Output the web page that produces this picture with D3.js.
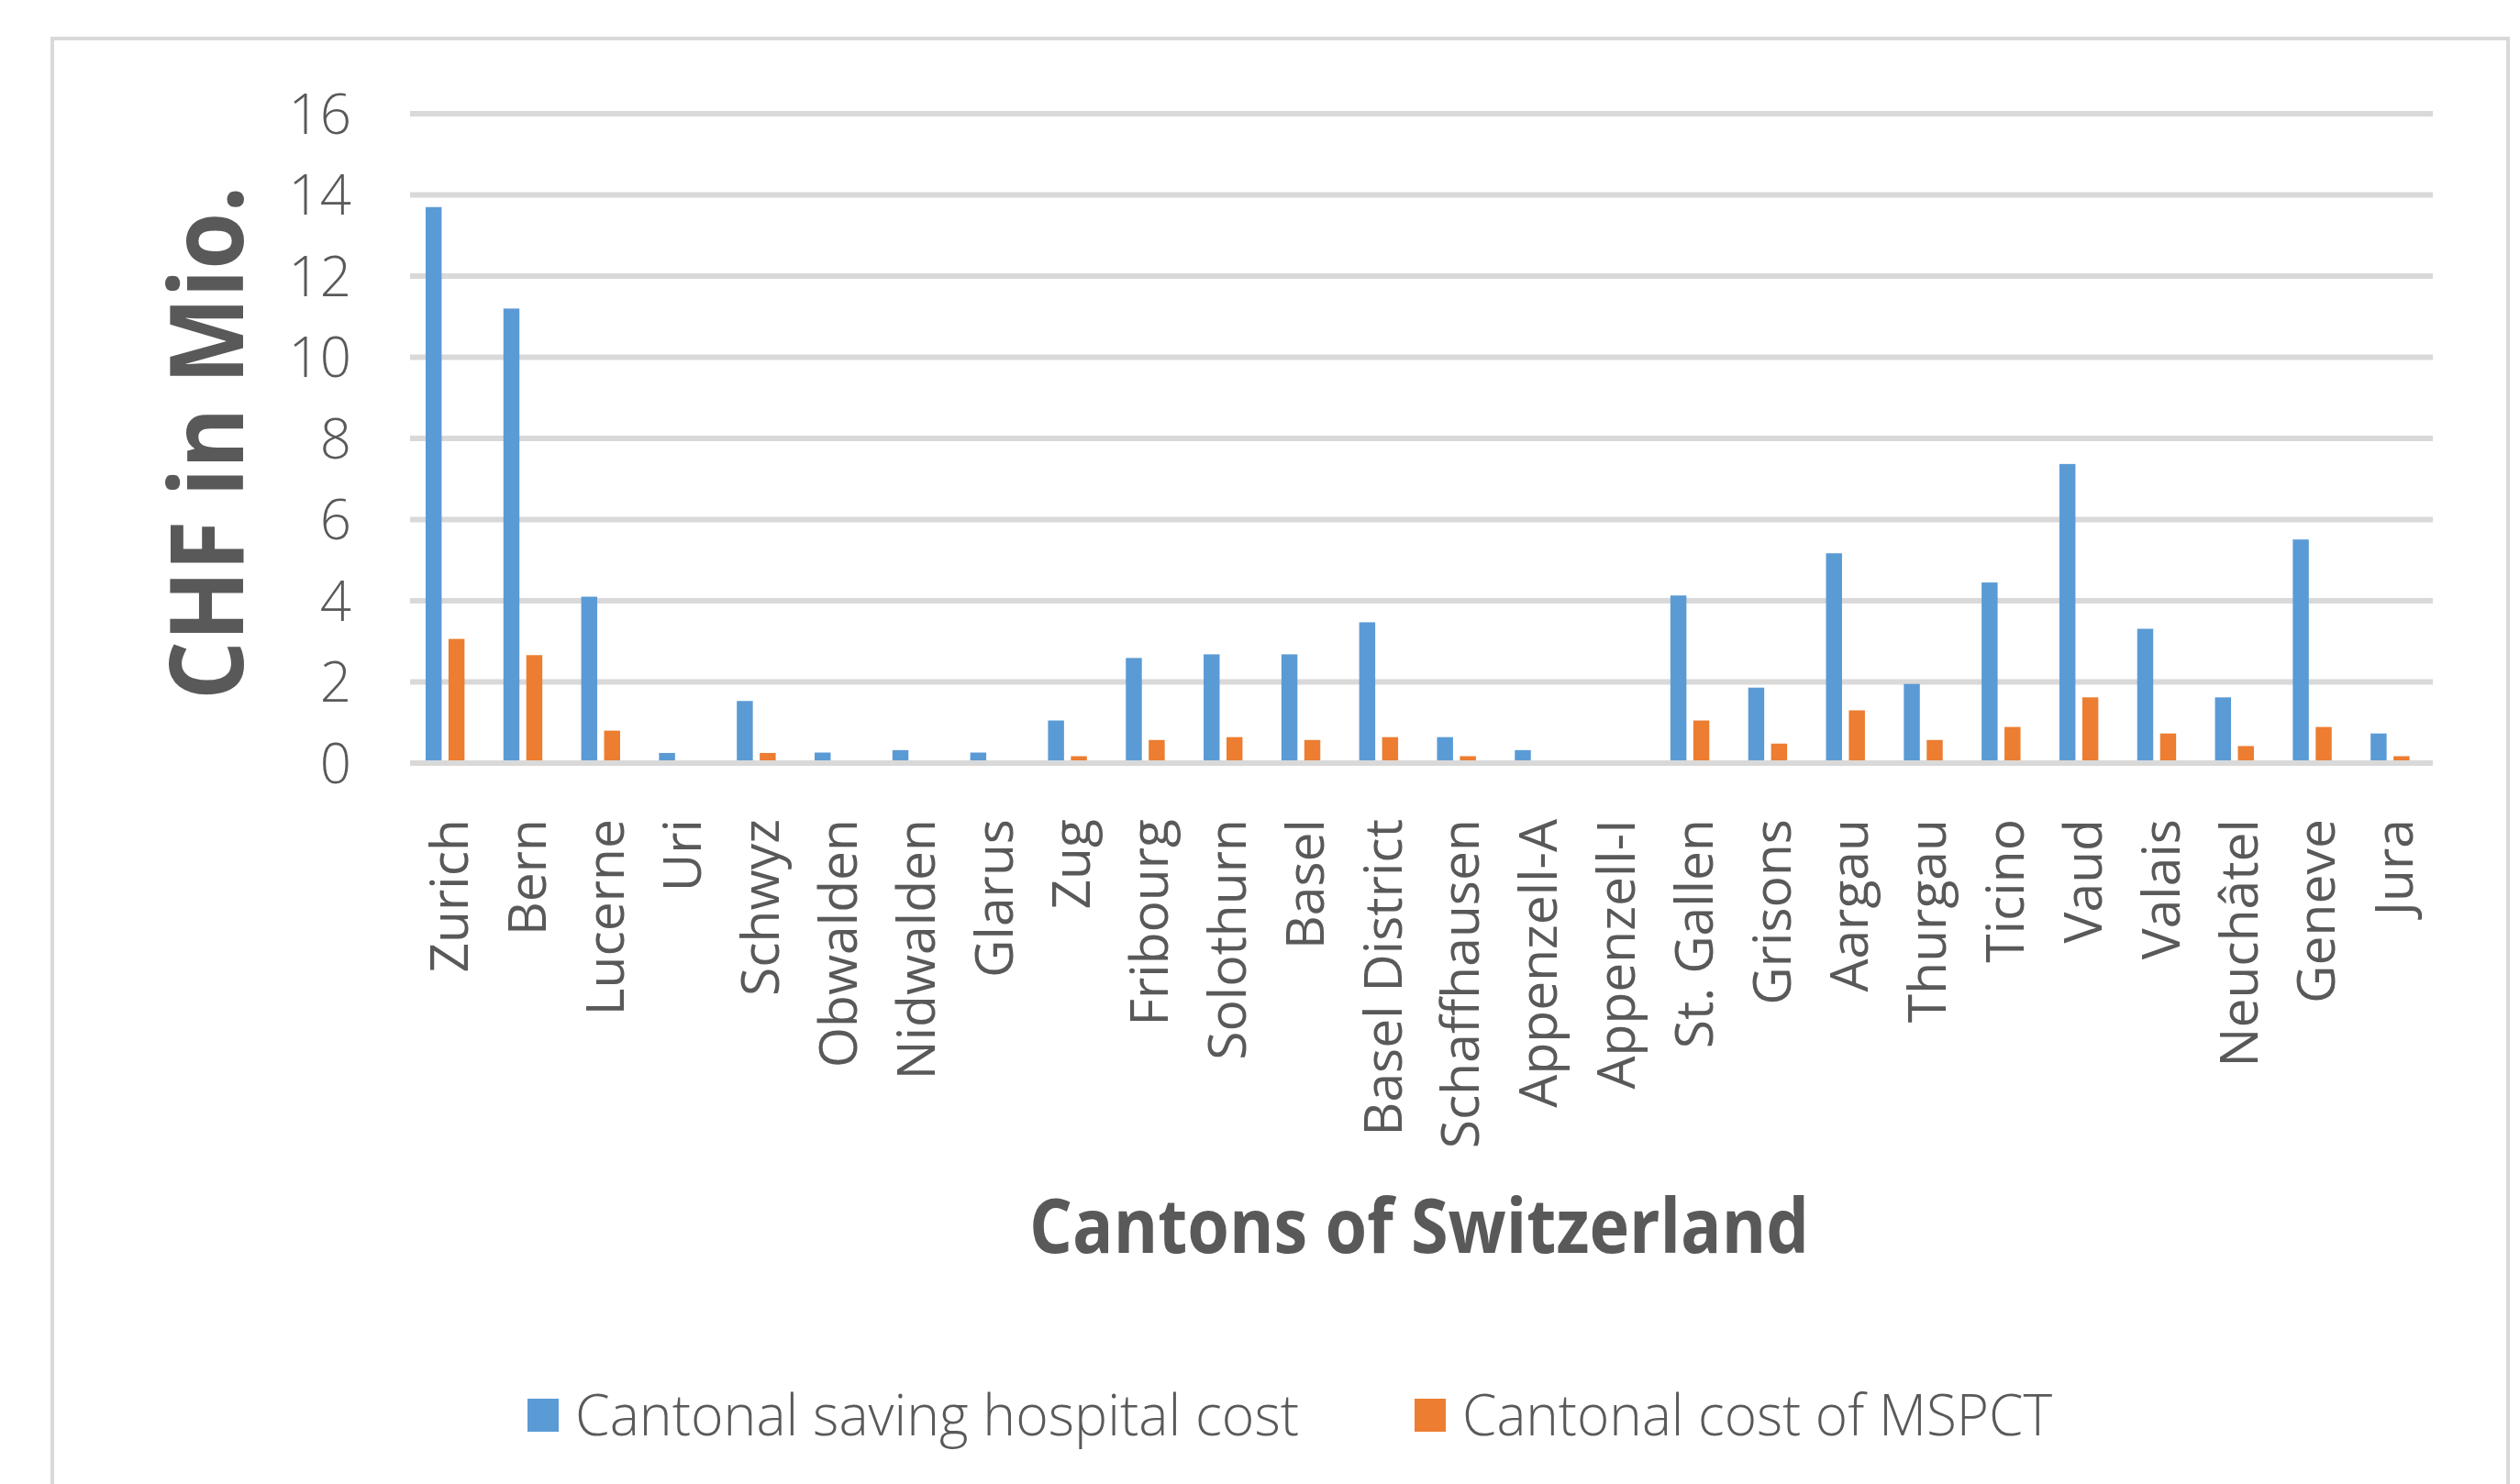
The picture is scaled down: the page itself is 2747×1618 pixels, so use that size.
<!DOCTYPE html>
<html>
<head>
  <title>Cantonal savings</title>
  <script src="https://d3js.org/d3.v7.min.js"></script>
  <style>
    body { margin: 0; background: #fff; }
    text { font-family: "Open Sans", "DejaVu Sans", sans-serif; fill: #595959; }
  </style>
</head>
<body>
<script type="text/javascript">
  // data
  var cantons = ["Zurich", "Bern", "Lucerne", "Uri", "Schwyz", "Obwalden", "Nidwalden", "Glarus", "Zug",
    "Fribourg", "Solothurn", "Basel", "Basel District", "Schaffhausen", "Appenzell-A", "Appenzell-I",
    "St. Gallen", "Grisons", "Aargau", "Thurgau", "Ticino", "Vaud", "Valais", "Neuchâtel", "Geneve", "Jura"];
  var savingHospital = [13.7, 11.2, 4.1, 0.25, 1.53, 0.26, 0.32, 0.26, 1.05, 2.59, 2.68, 2.68, 3.47, 0.64, 0.32, 0,
    4.13, 1.86, 5.17, 1.95, 4.45, 7.37, 3.31, 1.62, 5.51, 0.73];
  var costMSPCT = [3.06, 2.66, 0.8, 0, 0.25, 0, 0, 0, 0.17, 0.57, 0.64, 0.57, 0.64, 0.17, 0, 0,
    1.05, 0.48, 1.3, 0.57, 0.89, 1.62, 0.73, 0.42, 0.89, 0.17];
  var seriesNames = ["Cantonal saving hospital cost", "Cantonal cost of MSPCT"];
  var seriesColors = ["#5b9bd5", "#ed7d31"];
  var yTicks = [0, 2, 4, 6, 8, 10, 12, 14, 16];

  var w = 2747;
  var h = 1618;

  var svg = d3.select("body").append("svg")
    .attr("width", w)
    .attr("height", h);

  // chart frame
  svg.append("rect")
    .attr("x", 57).attr("y", 42)
    .attr("width", 2677).attr("height", 1640)
    .attr("fill", "none")
    .attr("stroke", "#d9d9d9")
    .attr("stroke-width", 4);

  var x0 = d3.scaleBand()
    .domain(cantons)
    .range([447, 2652]);

  var x1 = d3.scaleBand()
    .domain(seriesNames)
    .range([x0.bandwidth() * 0.2, x0.bandwidth() * 0.7])
    .paddingInner(0.3);

  var y = d3.scaleLinear()
    .domain([0, 16])
    .range([832, 124]);

  // gridlines
  svg.selectAll("line.grid")
    .data(yTicks)
    .enter()
    .append("line")
    .attr("class", "grid")
    .attr("x1", 447).attr("x2", 2652)
    .attr("y1", function(d){ return y(d); })
    .attr("y2", function(d){ return y(d); })
    .attr("stroke", "#d9d9d9")
    .attr("stroke-width", 6);

  // y tick labels
  svg.selectAll("text.ytick")
    .data(yTicks)
    .enter()
    .append("text")
    .attr("class", "ytick")
    .attr("x", 383)
    .attr("y", function(d){ return y(d); })
    .attr("dy", "0.36em")
    .attr("text-anchor", "end")
    .attr("font-size", "60px")
    .attr("font-weight", 300)
    .text(function(d){ return d; });

  var rows = cantons.map(function(c, i){
    return {canton: c, values: [savingHospital[i], costMSPCT[i]]};
  });

  var groups = svg.selectAll("g.canton")
    .data(rows)
    .enter()
    .append("g")
    .attr("class", "canton")
    .attr("transform", function(d){ return "translate(" + x0(d.canton) + ",0)"; });

  groups.selectAll("rect")
    .data(function(d){
      return d.values.map(function(v, k){ return {series: seriesNames[k], value: v, k: k}; });
    })
    .enter()
    .append("rect")
    .attr("x", function(d){ return x1(d.series); })
    .attr("width", x1.bandwidth())
    .attr("y", function(d){ return y(d.value); })
    .attr("height", function(d){ return y(0) - y(d.value); })
    .attr("fill", function(d){ return seriesColors[d.k]; });

  // zero line drawn over the bar feet
  svg.append("line")
    .attr("x1", 447).attr("x2", 2652)
    .attr("y1", y(0)).attr("y2", y(0))
    .attr("stroke", "#d9d9d9")
    .attr("stroke-width", 6);

  // category labels
  svg.selectAll("text.xlab")
    .data(cantons)
    .enter()
    .append("text")
    .attr("class", "xlab")
    .attr("transform", function(d){
      return "translate(" + (x0(d) + x0.bandwidth() / 2) + ",893) rotate(-90)";
    })
    .attr("dy", "0.36em")
    .attr("text-anchor", "end")
    .attr("font-size", "57px")
    .text(function(d){ return d; });

  // axis titles
  svg.append("text")
    .attr("transform", "translate(265,483) rotate(-90)")
    .attr("text-anchor", "middle")
    .attr("font-size", "112px")
    .attr("font-weight", "bold")
    .attr("textLength", 560)
    .attr("lengthAdjust", "spacingAndGlyphs")
    .text("CHF in Mio.");

  svg.append("text")
    .attr("x", 1547)
    .attr("y", 1366)
    .attr("text-anchor", "middle")
    .attr("font-size", "82px")
    .attr("font-weight", "bold")
    .attr("textLength", 850)
    .attr("lengthAdjust", "spacingAndGlyphs")
    .text("Cantons of Switzerland");

  // legend
  var legendX = [575, 1542];
  var legendLen = [789, 643];
  var legend = svg.selectAll("g.legend")
    .data(seriesNames)
    .enter()
    .append("g")
    .attr("class", "legend")
    .attr("transform", function(d, i){ return "translate(" + legendX[i] + ",1525)"; });

  legend.append("rect")
    .attr("width", 34)
    .attr("height", 36)
    .attr("fill", function(d, i){ return seriesColors[i]; });

  legend.append("text")
    .attr("x", 52)
    .attr("y", 40)
    .attr("font-size", "62px")
    .attr("font-weight", 300)
    .attr("textLength", function(d, i){ return legendLen[i]; })
    .attr("lengthAdjust", "spacingAndGlyphs")
    .text(function(d){ return d; });
</script>
</body>
</html>
